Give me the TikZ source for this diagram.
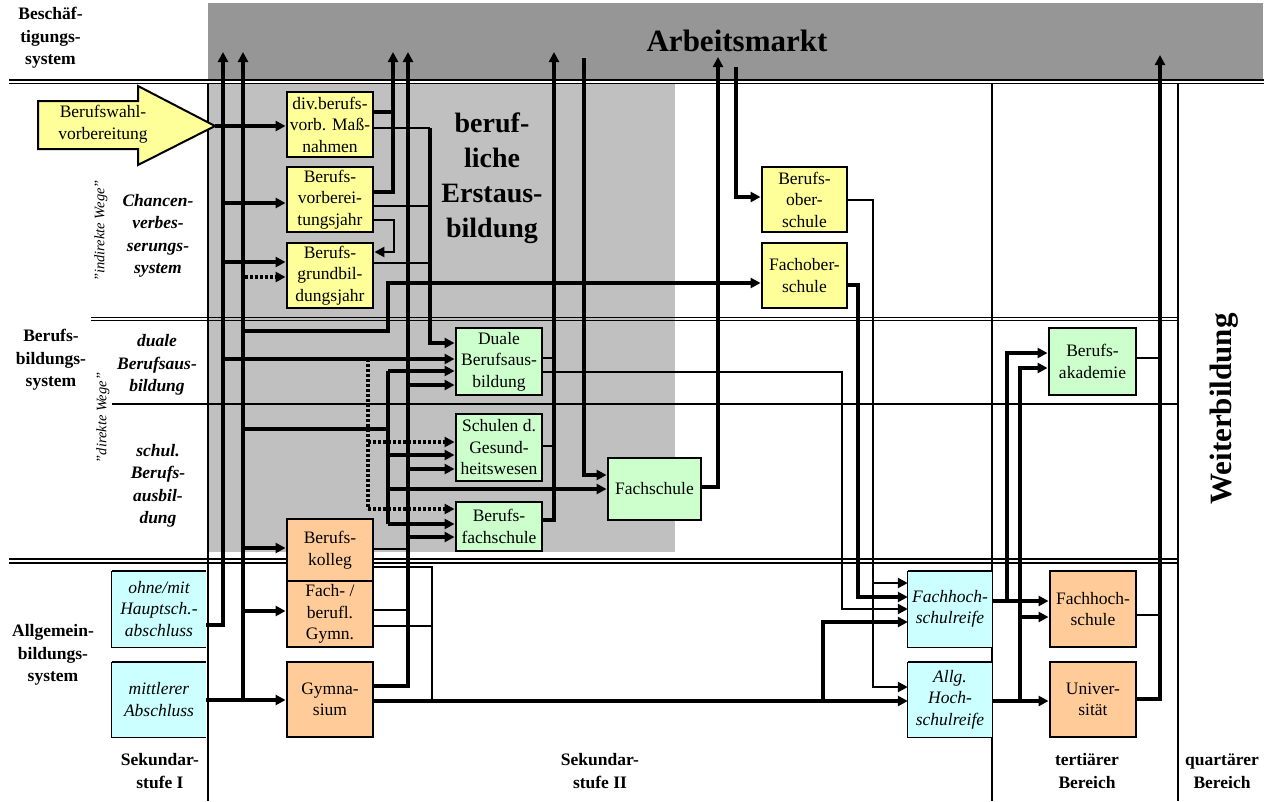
\documentclass[tikz,border=0pt]{standalone}
\usepackage{fontspec}
\setmainfont{Liberation Serif}
\usetikzlibrary{arrows.meta}
\definecolor{yel}{HTML}{FFFF99}
\definecolor{ora}{HTML}{FFCC99}
\definecolor{grn}{HTML}{CCFFCC}
\definecolor{cya}{HTML}{CCFFFF}
\definecolor{dgray}{HTML}{969696}
\definecolor{lgray}{HTML}{C0C0C0}
\begin{document}
\begin{tikzpicture}[x=1pt,y=-1pt,
 base/.style={inner sep=0pt, align=center, font=\fontsize{17.5}{21.5}\selectfont},
 boxs/.style={base, draw, line width=2.9pt},
 ybox/.style={boxs, fill=yel},
 obox/.style={boxs, fill=ora},
 gbox/.style={boxs, fill=grn},
 cbox/.style={inner sep=0pt, align=center, fill=cya, font=\fontsize{17.5}{21.5}\selectfont\itshape},
 lab/.style={inner sep=0pt, align=center, font=\fontsize{17.5}{22.5}\selectfont\bfseries},
 labi/.style={inner sep=0pt, align=center, font=\fontsize{17.5}{22.5}\selectfont\bfseries\itshape},
 rot/.style={inner sep=0pt, rotate=90, font=\fontsize{14.5}{16}\selectfont\itshape},
 sep/.style={line width=1.6pt},
 tk/.style={line width=3.5pt},
 md/.style={line width=2.4pt},
 ar/.style={-{Triangle[length=10pt,width=10pt]}},
 dt/.style={line width=3.5pt, dash pattern=on 3pt off 2pt},
]
\useasboundingbox (0,0) rectangle (1264,801);
% backgrounds
\fill[dgray] (208,3) rectangle (1263,80);
\fill[lgray] (208,83) rectangle (675,552);
% separators
\draw[sep] (9,80) -- (1264,80);
\draw[sep] (9,83.5) -- (1264,83.5);
\draw[line width=1pt] (91,317.5) -- (1179,317.5);
\draw[line width=1pt] (91,320.5) -- (1179,320.5);
\draw[line width=1.2pt] (112,404) -- (1179,404);
\draw[sep] (9,559) -- (1178,559);
\draw[sep] (9,563) -- (1178,563);
\draw[line width=1.2pt] (208,83) -- (208,801);
\draw[line width=1.2pt] (992,83) -- (992,801);
\draw[line width=1.2pt] (1178,83) -- (1178,801);

% labels
\node[font=\fontsize{31}{36}\selectfont\bfseries, inner sep=0pt] (am) at (737,41) {Arbeitsmarkt};
\node[font=\fontsize{28}{35}\selectfont\bfseries, inner sep=0pt, align=center] (ea) at (492,178) {beruf-\\liche\\Erstaus-\\bildung};
\node[font=\fontsize{31}{36}\selectfont\bfseries, inner sep=0pt, rotate=90] (wb) at (1224,409) {Weiterbildung};
\node[lab] (l1) at (50.5,38) {Beschäf-\\tigungs-\\system};
\node[lab] (l2) at (51,360) {Berufs-\\bildungs-\\system};
\node[lab] (l3) at (53,655) {Allgemein-\\bildungs-\\system};
\node[labi] (l4) at (158,236) {Chancen-\\verbes-\\serungs-\\system};
\node[labi] (l5) at (157,365) {duale\\Berufsaus-\\bildung};
\node[labi] (l6) at (158,486) {schul.\\Berufs-\\ausbil-\\dung};
\node[rot] (r1) at (101,231) {"indirekte Wege"};
\node[rot] (r2) at (103,418) {"direkte Wege"};
\node[lab] (b1) at (160,771) {Sekundar-\\stufe I};
\node[lab] (b2) at (600,771) {Sekundar-\\stufe II};
\node[lab] (b3) at (1087,771) {tertiärer\\Bereich};
\node[lab] (b4) at (1222,771) {quartärer\\Bereich};

% Berufswahl arrow
\draw[line width=2pt, fill=yel] (38,101) -- (138,101) -- (138,86) -- (215,126) -- (138,165) -- (138,149) -- (38,149) -- cycle;
\node[base] (bw) at (103,124) {Berufswahl-\\vorbereitung};
\coordinate (bwtip) at (215,126);

% boxes
\node[ybox, minimum width=86, minimum height=65] (dbv) at (330,124.5) {div.berufs-\\vorb. Maß-\\nahmen};
\node[ybox, minimum width=86, minimum height=65] (bvj) at (330,199.5) {Berufs-\\vorberei-\\tungsjahr};
\node[ybox, minimum width=86, minimum height=65] (bgj) at (330,275.5) {Berufs-\\grundbil-\\dungsjahr};
\node[ybox, minimum width=85, minimum height=65] (bos) at (804.5,199.5) {Berufs-\\ober-\\schule};
\node[ybox, minimum width=85, minimum height=65] (fos) at (804.5,275.5) {Fachober-\\schule};
\node[gbox, minimum width=86, minimum height=67] (dua) at (499,361.5) {Duale\\Berufsaus-\\bildung};
\node[gbox, minimum width=86, minimum height=67] (sgw) at (499,447.5) {Schulen d.\\Gesund-\\heitswesen};
\node[gbox, minimum width=86, minimum height=49] (bfs) at (499,526.5) {Berufs-\\fachschule};
\node[gbox, minimum width=93, minimum height=62] (fs) at (654.5,489) {Fachschule};
\node[gbox, minimum width=87, minimum height=67] (ba) at (1092.5,361.5) {Berufs-\\akademie};
\node[obox, minimum width=86, minimum height=62] (bk) at (330,550) {Berufs-\\kolleg};
\node[obox, minimum width=86, minimum height=66] (fbg) at (330,614) {Fach- /\\berufl.\\Gymn.};
\node[obox, minimum width=86, minimum height=75] (gym) at (330,699.5) {Gymna-\\sium};
\node[obox, minimum width=86, minimum height=76] (fh) at (1093,609) {Fachhoch-\\schule};
\node[obox, minimum width=86, minimum height=75] (uni) at (1093,699.5) {Univer-\\sität};
\node[cbox, minimum width=94, minimum height=76] (hs) at (159,609) {ohne/mit\\Hauptsch.-\\abschluss};
\node[cbox, minimum width=94, minimum height=75] (ma) at (159,699.5) {mittlerer\\Abschluss};
\node[cbox, minimum width=84, minimum height=76] (fhr) at (950,609) {Fachhoch-\\schulreife};
\node[cbox, minimum width=84, minimum height=75] (ahr) at (950,699.5) {Allg.\\Hoch-\\schulreife};
\foreach \n in {hs,ma,fhr,ahr}{
  \draw[line width=1.8pt] (\n.north east) -- (\n.north west);
  \draw[line width=1.2pt] (\n.north west) -- (\n.south west) -- (\n.south east);
}

% top ends
\coordinate (tA) at (223,52);
\coordinate (tB) at (243,52);
\coordinate (tC) at (393,52);
\coordinate (tD) at (408,52);
\coordinate (tG) at (554,52);
\coordinate (sF) at (584,58);
\coordinate (tJ) at (718,57);
\coordinate (sK) at (736,67);
\coordinate (tI) at (1160,55);

% connectors
\draw[tk,ar] (bwtip) -- (dbv.west |- bwtip);
% trunk A
\draw[tk,ar] (hs.east |- 0,625) -| (tA);
\draw[tk,ar] (223,203) -- (bvj.west |- 0,203);
\draw[tk,ar] (223,262) -- (bgj.west |- 0,262);
\draw[tk,ar] (223,359) -- (dua.west |- 0,359);
% trunk B
\draw[tk,ar] (ma.east |- 0,700) -- (gym.west |- 0,700);
\draw[tk,ar] (243,700) -- (tB);
\draw[dt,ar] (245,277) -- (bgj.west |- 0,277);
\draw[tk,ar] (243,331) -| (388,283) -- (fos.west |- 0,283);
\draw[tk] (243,429) -- (388,429);
\draw[tk] (388,371) -- (388,524);
\draw[tk,ar] (388,371) -- (dua.west |- 0,371);
\draw[tk,ar] (388,455) -- (sgw.west |- 0,455);
\draw[tk,ar] (388,489) -- (fs.west |- 0,489);
\draw[tk,ar] (388,524) -- (bfs.west |- 0,524);
\draw[tk,ar] (243,548) -- (bk.west |- 0,548);
\draw[tk,ar] (243,611) -- (fbg.west |- 0,611);
% dotted
\draw[dt] (368,359) -- (368,509);
\draw[dt,ar] (368,442) -- (sgw.west |- 0,442);
\draw[dt,ar] (368,509) -- (bfs.west |- 0,509);
% C
\draw[tk,ar] (bvj.east |- 0,192) -| (tC);
\draw[tk] (dbv.east |- 0,112) -- (393,112);
\draw[md,ar] (bvj.east |- 0,220) -| (394,252) -- (bgj.east |- 0,252);
% D
\draw[tk,ar] (gym.east |- 0,686) -| (tD);
\draw[md] (fbg.east |- 0,610) -- (408,610);
\draw[md] (bk.east |- 0,549) -- (408,549);
\draw[tk,ar] (408,385) -- (dua.west |- 0,385);
\draw[tk,ar] (408,469) -- (sgw.west |- 0,469);
\draw[tk,ar] (408,537) -- (bfs.west |- 0,537);
% E
\draw[md] (dbv.east |- 0,128) -- (430,128);
\draw[tk,ar] (430,128) |- (dua.west |- 0,343);
\draw[md] (bvj.east |- 0,206) -- (430,206);
\draw[md] (bgj.east |- 0,263) -- (430,263);
% F, G, J, K
\draw[tk,ar] (sF) |- (fs.west |- 0,475);
\draw[tk,ar] (bfs.east |- 0,520) -| (tG);
\draw[md] (dua.east |- 0,358) -- (554,358);
\draw[md] (sgw.east |- 0,446) -- (554,446);
\draw[tk,ar] (fs.east |- 0,487) -| (tJ);
\draw[tk,ar] (sK) |- (bos.west |- 0,197);
% H
\draw[md,ar] (dua.east |- 0,372) -| (842,609) -- (fhr.west |- 0,609);
% Berufsoberschule / Fachoberschule
\draw[md,ar] (bos.east |- 0,200) -| (873,687) -- (ahr.west |- 0,687);
\draw[md,ar] (873,583) -- (fhr.west |- 0,583);
\draw[tk,ar] (fos.east |- 0,285) -| (858,597) -- (fhr.west |- 0,597);
% Gymnasium long line
\draw[tk,ar] (gym.east |- 0,701) -- (ahr.west |- 0,701);
\draw[tk,ar] (823,701) |- (fhr.west |- 0,622);
\draw[md] (bk.east |- 0,567) -| (432,701);
\draw[md] (fbg.east |- 0,626) -- (432,626);
% tertiary
\draw[tk,ar] (fhr.east |- 0,601) -- (fh.west |- 0,601);
\draw[tk,ar] (1007,601) |- (ba.west |- 0,353);
\draw[tk,ar] (ahr.east |- 0,701) -- (uni.west |- 0,701);
\draw[tk,ar] (1020,701) |- (ba.west |- 0,368);
\draw[tk,ar] (1020,617) -- (fh.west |- 0,617);
% I
\draw[tk,ar] (uni.east |- 0,699) -| (tI);
\draw[md] (fh.east |- 0,615) -- (1160,615);
\draw[md] (ba.east |- 0,358) -- (1160,358);
\end{tikzpicture}
\end{document}
